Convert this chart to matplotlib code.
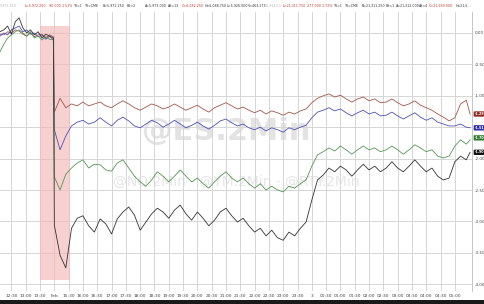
import matplotlib
matplotlib.use("Agg")
import matplotlib.pyplot as plt
from matplotlib.patches import Rectangle
from matplotlib.transforms import blended_transform_factory

# 2-minute bars, % change vs. prior close
# x = bar index (session break sits between 56 and 57)
bars_pre = list(range(0, 57, 4))
bars_post = list(range(57, 490, 6)) + [493]

red_pre = [-0.02, -0.03, 0.02, 0.00, 0.05, 0.03, -0.02, -0.05, 0.00, -0.06, -0.03, -0.02, -0.08, -0.03, -0.06]
blue_pre = [-0.05, 0.00, -0.03, 0.05, 0.08, 0.11, 0.02, 0.05, -0.02, 0.00, -0.06, -0.03, -0.10, -0.05, -0.11]
green_pre = [-0.30, -0.18, -0.08, -0.03, 0.02, 0.05, 0.00, -0.05, 0.02, -0.08, -0.05, -0.11, -0.06, -0.10, -0.11]
black_pre = [0.02, 0.05, 0.11, -0.02, 0.18, 0.24, 0.08, 0.00, 0.05, -0.03, 0.02, -0.08, -0.02, -0.05, -0.08]

red_post = [-1.26, -1.04, -1.19, -1.13, -1.16, -1.10, -1.16, -1.13, -1.10, -1.16, -1.19, -1.13, -1.08, -1.13,
            -1.19, -1.23, -1.18, -1.13, -1.16, -1.21, -1.18, -1.13, -1.18, -1.23, -1.19, -1.15, -1.21, -1.26,
            -1.19, -1.15, -1.11, -1.16, -1.21, -1.18, -1.23, -1.27, -1.23, -1.29, -1.24, -1.27, -1.31, -1.26,
            -1.29, -1.24, -1.21, -1.11, -1.04, -1.00, -0.97, -1.02, -0.99, -1.05, -1.10, -1.05, -1.02, -1.08,
            -1.05, -1.11, -1.10, -1.05, -1.11, -1.16, -1.13, -1.08, -1.15, -1.19, -1.23, -1.29, -1.34, -1.40,
            -1.35, -1.13, -1.07, -1.29]
blue_post = [-1.54, -1.86, -1.64, -1.48, -1.42, -1.39, -1.45, -1.42, -1.35, -1.42, -1.48, -1.39, -1.34, -1.40,
             -1.48, -1.51, -1.45, -1.39, -1.43, -1.50, -1.45, -1.39, -1.45, -1.51, -1.47, -1.42, -1.48, -1.53,
             -1.47, -1.40, -1.37, -1.43, -1.48, -1.45, -1.51, -1.54, -1.50, -1.56, -1.51, -1.54, -1.58, -1.51,
             -1.54, -1.50, -1.47, -1.35, -1.26, -1.23, -1.19, -1.24, -1.21, -1.27, -1.32, -1.27, -1.23, -1.29,
             -1.26, -1.32, -1.31, -1.26, -1.32, -1.37, -1.32, -1.27, -1.34, -1.39, -1.35, -1.42, -1.45, -1.48,
             -1.48, -1.45, -1.50, -1.51]
green_post = [-2.29, -2.50, -2.25, -2.15, -2.07, -2.02, -2.15, -2.09, -2.10, -2.18, -2.20, -2.07, -2.02, -2.15,
              -2.28, -2.37, -2.44, -2.34, -2.21, -2.28, -2.37, -2.28, -2.18, -2.28, -2.37, -2.31, -2.40, -2.47,
              -2.37, -2.28, -2.21, -2.31, -2.37, -2.31, -2.40, -2.47, -2.40, -2.50, -2.44, -2.50, -2.53, -2.44,
              -2.47, -2.40, -2.34, -2.12, -1.94, -1.89, -1.83, -1.88, -1.80, -1.86, -1.93, -1.86, -1.80, -1.86,
              -1.83, -1.89, -1.86, -1.80, -1.86, -1.93, -1.86, -1.78, -1.83, -1.89, -1.86, -1.96, -1.99, -1.96,
              -1.80, -1.70, -1.77, -1.70]
black_post = [-3.06, -3.54, -3.74, -3.11, -2.95, -2.91, -3.07, -3.17, -2.96, -3.04, -3.20, -2.96, -2.85, -2.77,
              -2.90, -3.14, -3.01, -2.88, -2.79, -2.85, -2.95, -2.82, -2.74, -2.88, -2.98, -2.85, -2.95, -3.07,
              -2.98, -2.85, -2.79, -2.91, -3.01, -2.95, -3.07, -3.17, -3.11, -3.23, -3.14, -3.26, -3.30, -3.17,
              -3.23, -3.11, -3.01, -2.66, -2.34, -2.26, -2.15, -2.21, -2.12, -2.18, -2.28, -2.18, -2.09, -2.18,
              -2.12, -2.21, -2.15, -2.05, -2.15, -2.21, -2.12, -2.02, -2.12, -2.21, -2.15, -2.28, -2.34, -2.31,
              -2.05, -1.96, -2.02, -1.90]

series = [
    ("red", red_pre, red_post, "#a0584a", "#8e2a22"),
    ("blue", blue_pre, blue_post, "#5050b8", "#2e2ea0"),
    ("green", green_pre, green_post, "#569656", "#2f7a2f"),
    ("black", black_pre, black_post, "#333333", "#111111"),
]

tick_labels = ["12:30", "13:00", "13:30", "Feb", "15:30", "16:00", "16:30", "17:00", "17:30", "18:00",
               "18:30", "19:00", "19:30", "20:00", "20:30", "21:00", "21:30", "22:00", "22:30", "23:00",
               "23:30", "3", "00:30", "01:00", "01:30", "02:00", "02:30", "03:00", "03:30", "04:00",
               "04:30", "05:00"]
y_ticks = [0.0, -0.5, -1.0, -1.5, -2.0, -2.5, -3.0, -3.5, -4.0]

# quote strip on top: (x px, text, color)
header = [
    (0, "5,971.250", "#b0b0b0"),
    (25, "L=5,972.250", "#c0392b"), (49, "-90.000", "#c0392b"), (62, "-1.51%", "#c0392b"),
    (74, "TS=1", "#333333"), (85, "TS=CME", "#333333"), (103, "B=5,972.250", "#333333"),
    (127, "BS=2", "#333333"), (145, "A=5,973.000", "#333333"), (168, "AS=13", "#333333"),
    (182, "O=6,082.250", "#c0392b"), (205, "H=6,088.750", "#333333"), (227, "L=5,926.000", "#333333"),
    (248, "V=463,173", "#333333"), (265, "21,312.00", "#b0b0b0"),
    (283, "L=21,311.750", "#c0392b"), (307, "-277.000", "#c0392b"), (322, "-1.72%", "#c0392b"),
    (334, "TS=1", "#333333"), (345, "TS=CME", "#333333"), (362, "B=21,311.250", "#333333"),
    (386, "BS=1", "#333333"), (396, "A=21,312.000", "#333333"), (419, "AS=4", "#333333"),
    (429, "O=21,589.000", "#c0392b"), (456, "H=21,6...", "#333333"),
]

W, H = 485, 304
fig = plt.figure(figsize=(W / 100, H / 100), dpi=100)
fig.patch.set_facecolor("white")
ax = fig.add_axes([0, 1 - 291 / H, 472 / W, 279 / H])

ax.set_xlim(0, 495)
ax.set_ylim(-4.108, 0.334)

# watermark
ax.text(0.48, 0.57, "@ES.2Min", transform=ax.transAxes, fontsize=22, fontweight="bold",
        color="#e3e3e3", ha="center", va="center", zorder=0)
ax.text(0.50, 0.39, "@NQ.2Min - @YM.2Min - @RTY.2Min", transform=ax.transAxes, fontsize=10,
        color="#e6e6e6", ha="center", va="center", zorder=0)

# highlighted gap
ax.add_patch(Rectangle((42, -3.93), 31, 4.04, facecolor="#f3b8b8", alpha=0.65,
                       edgecolor="none", zorder=1))

for name, pre, post, color, label_color in series:
    xs = bars_pre + bars_post
    ys = pre + post
    ax.plot(xs, ys, color=color, lw=0.6, zorder=3)

# last-value tags on the right edge
trans = blended_transform_factory(ax.transAxes, ax.transData)
label_offsets = {"red": 0.0, "blue": 0.0, "green": 0.03, "black": 0.0}
for name, pre, post, color, label_color in series:
    last = post[-1]
    ax.text(1.005, last + label_offsets[name], f"{last:.2f}", transform=trans, fontsize=2.4,
            color="white", fontweight="bold", ha="left", va="center", clip_on=False, zorder=5,
            bbox=dict(boxstyle="round,pad=0.2", fc=label_color, ec="none"))

ax.set_xticks([12 + 15 * k for k in range(len(tick_labels))])
ax.set_xticklabels(tick_labels, fontsize=3.2, color="#444444")
ax.set_yticks(y_ticks)
ax.set_yticklabels([f"{v:.2f}" for v in y_ticks], fontsize=3.0, color="#444444")
ax.yaxis.tick_right()
ax.tick_params(axis="both", length=0, pad=2)
ax.grid(True, color="#d6d6d6", lw=0.7)
ax.set_axisbelow(True)
for side in ["left", "top", "bottom"]:
    ax.spines[side].set_visible(False)
ax.spines["right"].set_color("#bbbbbb")
ax.spines["right"].set_linewidth(0.6)

for px, txt, col in header:
    fig.text(px / W, 1 - 6 / H, txt, fontsize=2.3, color=col, ha="left", va="center")

# dark strip at the very bottom
fig.add_artist(Rectangle((0, 0), 1, 4 / H, transform=fig.transFigure,
                         facecolor="#1a1a1a", edgecolor="none"))

fig.savefig("out.png", dpi=100)
